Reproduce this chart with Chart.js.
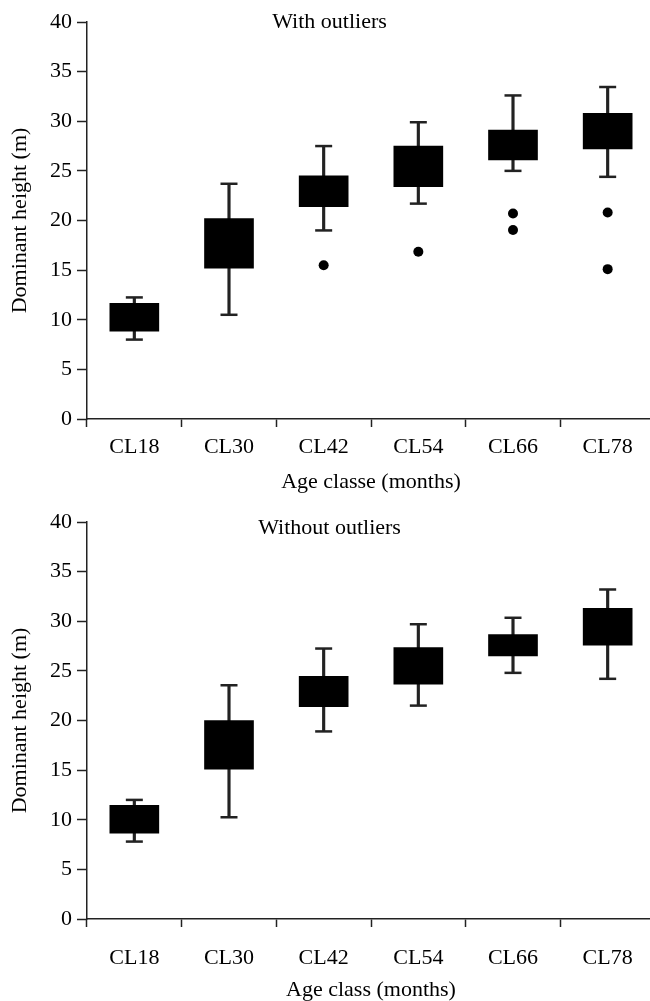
<!DOCTYPE html>
<html>
<head>
<meta charset="utf-8">
<script src="https://cdn.jsdelivr.net/npm/chart.js@4.4.1/dist/chart.umd.min.js"></script>
<style>
  html, body { margin: 0; padding: 0; background: #fff; overflow: hidden; }
  #wrap { width: 650px; height: 1001px; position: relative; overflow: hidden; }
  canvas { position: absolute; left: 0; display: block; }
</style>
</head>
<body>
<div id="wrap">
  <canvas id="topChart" width="655" height="500" style="top:0"></canvas>
  <canvas id="bottomChart" width="655" height="501" style="top:500px"></canvas>
</div>
<script>
// categories and y ticks
const ageClasses = ['CL18', 'CL30', 'CL42', 'CL54', 'CL66', 'CL78'];
const yTickValues = [0, 5, 10, 15, 20, 25, 30, 35, 40];

// with outliers
const withMin = [8.0, 10.5, 19.0, 21.7, 25.0, 24.4];
const withQ1  = [8.85, 15.2, 21.4, 23.4, 26.1, 27.2];
const withQ3  = [11.65, 20.2, 24.5, 27.5, 29.1, 30.8];
const withMax = [12.25, 23.7, 27.5, 29.9, 32.6, 33.45];
const outlierClass  = ['CL42', 'CL54', 'CL66', 'CL66', 'CL78', 'CL78'];
const outlierHeight = [15.5, 16.85, 20.7, 19.05, 20.8, 15.1];

// without outliers
const noMin = [7.8, 10.25, 18.9, 21.5, 24.8, 24.2];
const noQ1  = [8.65, 15.1, 21.4, 23.65, 26.5, 27.6];
const noQ3  = [11.45, 20.0, 24.45, 27.35, 28.65, 31.3];
const noMax = [12.0, 23.55, 27.25, 29.7, 30.35, 33.2];

const serif = '"Liberation Serif", "Times New Roman", serif';
const ink = '#222';

// title drawn inside the plot area
const panelLabel = {
    id: 'panelLabel',
    afterDraw(chart, args, opts) {
        const { ctx, chartArea } = chart;
        ctx.save();
        ctx.font = '22px ' + serif;
        ctx.fillStyle = '#000';
        ctx.textAlign = 'center';
        ctx.textBaseline = 'middle';
        const x = chartArea.left + (chartArea.right - chartArea.left) * 0.427;
        ctx.fillText(opts.text, x, chartArea.top + opts.dy);
        ctx.restore();
    }
};

function boxDatasets(lo, q1, q3, hi, outCls, outVal) {
    const ds = [
        { type: 'bar', data: q1.map((v, i) => [v, q3[i]]), backgroundColor: '#000',
          barThickness: 49, grouped: false, order: 1 },
        { type: 'bar', data: lo.map((v, i) => [v, hi[i]]), backgroundColor: ink,
          barThickness: 2.5, grouped: false, order: 2 },
        { type: 'line', data: hi, showLine: false, pointStyle: 'line', pointRadius: 8.5,
          pointHoverRadius: 8.5, borderColor: ink, borderWidth: 2.5, order: 0 },
        { type: 'line', data: lo, showLine: false, pointStyle: 'line', pointRadius: 8.5,
          pointHoverRadius: 8.5, borderColor: ink, borderWidth: 2.5, order: 0 }
    ];
    if (outCls && outCls.length) {
        ds.push({ type: 'line', data: outCls.map((c, i) => ({ x: c, y: outVal[i] })),
                  showLine: false, pointStyle: 'circle', pointRadius: 5, pointHoverRadius: 5,
                  backgroundColor: '#000', borderWidth: 0, order: 0 });
    }
    return ds;
}

function makeChart(id, datasets, label, labelDy, xTitle, xHeight, tickPad, titlePad) {
    const ctx = document.getElementById(id).getContext('2d');
    return new Chart(ctx, {
        type: 'bar',
        data: { labels: ageClasses, datasets: datasets },
        options: {
            responsive: false,
            devicePixelRatio: 1,
            animation: false,
            events: [],
            layout: { autoPadding: false, padding: { top: 22, right: 0, bottom: 0, left: 0 } },
            plugins: {
                legend: { display: false },
                tooltip: { enabled: false },
                panelLabel: { text: label, dy: labelDy }
            },
            scales: {
                x: {
                    offset: true,
                    grid: { display: true, offset: true, drawOnChartArea: false, drawTicks: true,
                            tickLength: 8, tickWidth: 1.5, tickColor: ink },
                    border: { display: true, color: ink, width: 1.5 },
                    ticks: { color: '#000', font: { family: serif, size: 22 }, padding: tickPad,
                             maxRotation: 0, autoSkip: false },
                    title: { display: true, text: xTitle, color: '#000',
                             font: { family: serif, size: 22, lineHeight: 1 },
                             padding: { top: 0, bottom: titlePad } },
                    afterFit: s => { s.height = xHeight; s.paddingLeft = 0; s.paddingRight = 0; }
                },
                y: {
                    min: 0,
                    max: 40,
                    afterBuildTicks: s => { s.ticks = yTickValues.map(v => ({ value: v })); },
                    grid: { display: true, drawOnChartArea: false, drawTicks: true,
                            tickLength: 10, tickWidth: 1.5, tickColor: ink },
                    border: { display: true, color: ink, width: 1.5 },
                    ticks: { color: '#000', font: { family: serif, size: 22 }, padding: 5 },
                    title: { display: true, text: 'Dominant height (m)', color: '#000',
                             font: { family: serif, size: 22, lineHeight: 1 },
                             padding: { top: 9, bottom: 0 } },
                    afterFit: s => { s.width = 87; }
                }
            }
        },
        plugins: [panelLabel]
    });
}

makeChart('topChart',
    boxDatasets(withMin, withQ1, withQ3, withMax, outlierClass, outlierHeight),
    'With outliers', 0, 'Age classe (months)', 81, 7, 7);

makeChart('bottomChart',
    boxDatasets(noMin, noQ1, noQ3, noMax, [], []),
    'Without outliers', 6, 'Age class (months)', 82, 18, 0);
</script>
</body>
</html>
